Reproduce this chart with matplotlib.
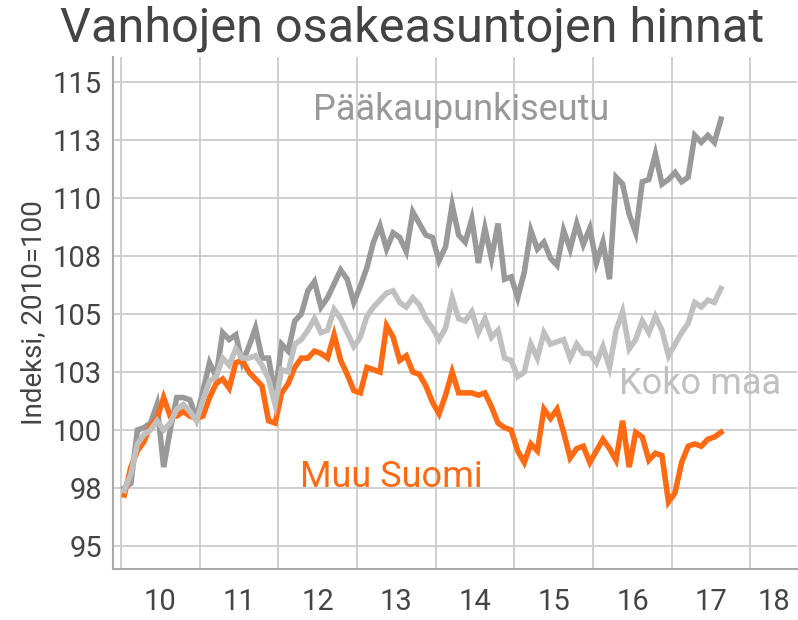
import numpy as np
import pandas as pd
import matplotlib
matplotlib.use("Agg")
import matplotlib.pyplot as plt

# monthly index values, 2010=100, Jan 2010 .. Aug 2017
paakaupunkiseutu = [97.5, 97.7, 100.0, 100.1, 100.3, 101.1, 98.4, 100.0, 101.4, 101.4, 101.3, 100.5,
                    101.7, 102.9, 102.3, 104.2, 103.9, 104.1, 102.9, 103.6, 104.4, 103.1, 103.1, 101.5,
                    103.7, 103.4, 104.7, 105.0, 106.0, 106.4, 105.3, 105.7, 106.3, 106.9, 106.5, 105.5,
                    106.2, 107.0, 108.1, 108.8, 107.8, 108.5, 108.3, 107.7, 109.4, 108.9, 108.4, 108.3,
                    107.3, 107.9, 109.7, 108.4, 108.1, 109.1, 107.2, 108.7, 107.4, 108.9, 106.5, 106.6,
                    105.7, 106.8, 108.6, 107.8, 108.1, 107.4, 107.1, 108.6, 107.8, 108.9, 108.0, 108.7,
                    107.2, 108.1, 106.5, 110.9, 110.6, 109.3, 108.5, 110.7, 110.8, 111.9, 110.6, 110.8,
                    111.1, 110.7, 110.9, 112.7, 112.4, 112.7, 112.4, 113.4]
koko_maa = [97.4, 98.1, 99.4, 99.8, 100.0, 100.4, 100.0, 100.3, 100.9, 101.1, 100.8, 100.4,
            101.3, 102.1, 102.3, 103.1, 102.8, 103.5, 103.1, 103.1, 103.2, 102.8, 102.2, 101.1,
            102.6, 102.5, 103.7, 103.9, 104.3, 104.8, 104.2, 104.3, 105.2, 104.8, 104.2, 103.6,
            104.0, 104.9, 105.3, 105.6, 105.9, 106.0, 105.5, 105.3, 105.7, 105.4, 104.8, 104.4,
            103.9, 104.4, 105.7, 104.8, 104.7, 105.1, 104.2, 104.8, 104.0, 104.3, 103.1, 103.0,
            102.3, 102.5, 103.7, 103.1, 104.2, 103.7, 103.8, 103.9, 103.1, 103.7, 103.3, 103.3,
            102.9, 103.6, 102.7, 104.3, 105.1, 103.5, 103.9, 104.7, 104.2, 104.9, 104.3, 103.2,
            103.7, 104.2, 104.6, 105.5, 105.3, 105.6, 105.5, 106.1]
muu_suomi = [97.2, 98.4, 99.1, 99.5, 100.2, 100.5, 101.4, 100.6, 100.6, 100.8, 100.6, 100.5,
             100.6, 101.4, 102.0, 102.2, 101.8, 102.9, 103.0, 102.5, 102.2, 101.9, 100.4, 100.3,
             101.6, 102.0, 102.7, 103.1, 103.1, 103.4, 103.3, 103.1, 104.1, 103.0, 102.4, 101.7,
             101.6, 102.7, 102.6, 102.5, 104.5, 104.0, 103.0, 103.2, 102.5, 102.4, 101.9, 101.2,
             100.7, 101.5, 102.5, 101.6, 101.6, 101.6, 101.5, 101.6, 101.0, 100.3, 100.1, 100.0,
             99.1, 98.6, 99.4, 99.1, 100.9, 100.5, 100.9, 99.9, 98.8, 99.2, 99.3, 98.6,
             99.1, 99.6, 99.2, 98.7, 100.4, 98.4, 99.9, 99.7, 98.7, 99.0, 98.9, 96.9,
             97.3, 98.6, 99.3, 99.4, 99.3, 99.6, 99.7, 99.9]

year_labels = ["10", "11", "12", "13", "14", "15", "16", "17", "18"]
ytick_vals = [95, 97.5, 100, 102.5, 105, 107.5, 110, 112.5, 115]
ytick_labels = ["95", "98", "100", "103", "105", "108", "110", "113", "115"]

df = pd.DataFrame({"pks": paakaupunkiseutu, "koko": koko_maa, "muu": muu_suomi})
df["t"] = 2010 + (np.arange(len(df)) + 0.5) / 12

plt.rcParams["font.family"] = ["Roboto", "DejaVu Sans"]

fig = plt.figure(figsize=(7.98, 6.2), dpi=100)
ax = fig.add_axes([0.1416, 0.0823, 0.857, 0.8258])

c_dark = "#999999"
c_light = "#c0c0c0"
c_orange = "#ff6a13"

ax.plot(df["t"], df["pks"], color=c_dark, lw=4.0, solid_joinstyle="miter")
ax.plot(df["t"], df["muu"], color=c_orange, lw=4.0, solid_joinstyle="miter")
ax.plot(df["t"], df["koko"], color=c_light, lw=4.0, solid_joinstyle="miter")

ax.set_xlim(2009.898, 2018.59)
ax.set_ylim(94.01, 116.08)

ax.set_xticks(range(2010, 2019))
ax.set_xticklabels([])
minor_pos = [2010.5 + i for i in range(8)] + [2018.3]
ax.set_xticks(minor_pos, minor=True)
ax.set_xticklabels(year_labels, minor=True)
ax.set_yticks(ytick_vals)
ax.set_yticklabels(ytick_labels)

ax.tick_params(axis="both", which="both", length=0, colors="#444444", labelsize=21)
ax.tick_params(axis="x", which="minor", pad=14)
ax.tick_params(axis="y", pad=8)

ax.grid(True, which="major", color="#cccccc", lw=1.3)
ax.set_axisbelow(True)
for s in ["top", "right"]:
    ax.spines[s].set_visible(False)
for s in ["left", "bottom"]:
    ax.spines[s].set_color("#aaaaaa")
    ax.spines[s].set_linewidth(1.5)

ax.set_ylabel("Indeksi, 2010=100", fontsize=20, color="#444444", labelpad=4)

ax.text(2014.32, 113.8, "Pääkaupunkiseutu", color=c_dark, fontsize=26,
        ha="center", va="center")
ax.text(2017.36, 102.0, "Koko maa", color=c_light, fontsize=26,
        ha="center", va="center")
ax.text(2013.44, 97.97, "Muu Suomi", color=c_orange, fontsize=26,
        ha="center", va="center")

fig.text(0.517, 0.953, "Vanhojen osakeasuntojen hinnat", fontsize=35,
         color="#444444", ha="center", va="center")

plt.savefig("out.png", dpi=100)
